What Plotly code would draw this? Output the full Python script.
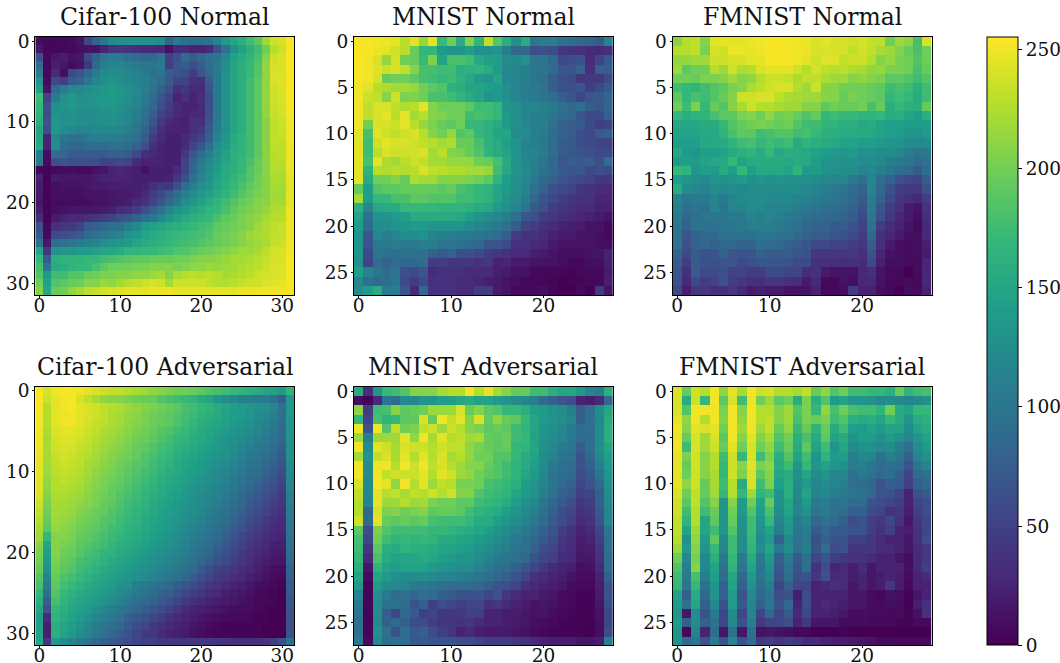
import plotly.graph_objects as go

cifar_normal = [
[8,4,4,6,8,12,55,80,100,120,125,128,130,130,128,124,80,105,92,90,90,95,114,136,150,160,175,190,218,236,240,253],
[15,5,4,4,6,10,12,12,25,38,40,38,35,30,30,28,12,30,30,25,25,30,62,95,125,145,160,175,198,226,235,253],
[62,5,15,20,12,15,58,80,100,106,106,95,90,85,85,100,50,62,90,74,85,95,100,120,145,155,165,180,208,236,240,253],
[90,5,20,15,8,12,42,85,110,116,118,110,105,100,100,105,47,68,74,62,74,90,105,125,150,160,170,185,212,238,240,253],
[105,5,30,10,58,68,85,105,120,124,124,118,113,105,95,100,74,68,62,46,68,85,105,130,150,160,170,185,212,240,240,253],
[130,8,58,47,74,80,100,115,125,130,125,120,115,110,100,90,74,52,52,35,35,74,105,130,150,160,175,190,212,240,242,253],
[145,12,90,110,120,120,125,130,135,140,135,127,120,110,95,80,62,35,40,30,30,68,105,130,150,160,175,190,212,236,240,253],
[175,52,105,125,135,125,130,135,137,140,135,127,117,105,90,68,52,25,35,25,35,62,105,130,150,160,175,190,212,236,240,253],
[170,62,125,133,137,130,130,130,135,135,130,123,115,100,85,62,46,30,25,25,30,62,105,130,150,160,175,190,212,236,238,253],
[165,62,130,125,130,125,123,125,127,130,125,120,110,95,76,52,40,28,25,28,30,62,105,130,150,160,175,190,212,233,238,252],
[160,68,135,130,130,125,123,123,127,127,123,117,105,90,68,43,28,25,22,35,35,68,105,130,150,160,175,190,208,231,235,250],
[150,62,135,125,120,115,115,120,120,120,117,110,100,82,57,35,25,25,25,35,40,74,110,130,150,160,175,190,208,231,235,250],
[150,25,120,100,95,95,105,110,110,110,110,100,95,74,46,30,22,22,30,40,52,80,115,135,155,165,175,190,208,231,232,250],
[155,25,125,90,85,85,90,90,90,95,95,90,80,62,35,25,22,22,30,52,68,95,125,140,155,165,175,190,208,229,230,248],
[110,10,90,85,74,74,76,74,74,80,80,74,57,35,28,25,22,22,40,68,90,110,130,145,160,165,175,190,208,226,230,248],
[105,8,62,68,62,64,62,62,52,52,57,52,30,25,25,25,22,22,52,80,105,120,135,150,160,170,180,195,208,226,228,248],
[5,2,5,8,10,8,8,12,15,25,28,25,22,12,22,22,20,30,52,85,110,125,140,155,160,170,185,195,208,226,225,248],
[25,2,18,15,15,15,15,20,25,25,25,25,22,20,22,22,25,40,62,95,115,130,145,155,165,175,185,198,208,223,222,245],
[18,2,10,12,12,12,15,18,18,20,22,22,22,25,35,43,40,62,90,110,125,135,150,160,170,180,190,198,208,221,220,245],
[18,3,10,10,10,10,12,14,12,15,18,18,22,30,46,57,74,90,110,123,135,145,155,165,175,185,195,203,208,219,218,245],
[15,3,8,8,8,8,10,12,14,15,18,20,28,35,52,68,85,105,125,135,145,155,165,175,185,195,198,208,210,221,220,245],
[22,3,10,12,15,15,15,15,18,22,32,35,46,62,80,95,115,130,140,150,155,165,170,180,190,198,203,208,214,223,225,248],
[30,3,18,25,28,28,35,40,46,52,62,68,80,90,100,115,135,145,153,160,165,170,180,190,195,203,208,212,220,226,228,248],
[62,5,35,40,43,52,74,80,85,95,95,110,120,140,145,150,155,160,165,170,175,180,190,195,198,203,208,217,223,229,232,248],
[74,8,57,62,68,74,90,95,105,110,115,130,140,150,155,160,165,170,173,177,180,185,195,198,203,208,217,221,223,231,232,248],
[95,15,90,95,100,105,110,115,125,130,135,140,150,155,160,163,170,173,177,180,185,190,195,198,203,208,214,217,221,233,235,250],
[150,40,130,135,135,140,140,145,150,150,155,165,165,170,170,175,177,183,185,190,195,198,203,208,212,217,217,221,229,238,240,250],
[170,74,160,165,165,165,170,170,175,180,185,187,190,190,195,195,195,198,198,203,208,208,210,214,220,221,223,226,233,238,240,252],
[180,100,155,160,165,170,170,180,190,198,198,200,203,203,208,208,208,203,208,212,212,217,214,217,220,223,226,229,236,240,242,252],
[185,140,175,175,185,185,195,198,203,203,208,208,212,212,217,221,208,221,226,229,226,229,226,221,223,226,229,236,238,240,242,252],
[198,145,185,190,195,198,208,208,217,212,221,226,231,236,240,236,221,236,236,236,236,231,226,226,229,233,236,238,242,245,245,252],
[208,150,195,198,212,219,229,232,238,240,242,245,245,245,248,248,248,245,245,245,245,245,245,245,245,248,248,248,250,250,250,253],
]

mnist_normal = [
[253,253,250,248,245,228,245,214,245,172,198,158,208,168,231,185,158,128,155,100,108,108,95,90,85,80,70,112],
[253,253,248,245,236,228,195,168,168,138,133,133,143,128,128,133,110,85,85,62,62,60,42,38,34,30,30,35],
[253,250,240,214,240,198,195,172,204,148,180,180,175,152,143,143,123,120,128,100,100,85,58,62,66,32,52,72],
[252,250,242,236,240,231,208,180,180,175,175,158,162,165,155,138,120,115,110,100,100,90,70,68,80,34,76,76],
[252,250,240,195,198,198,190,180,175,170,175,162,152,138,133,150,120,115,110,100,95,76,64,58,40,44,44,58],
[250,245,228,224,219,219,214,198,190,185,162,158,148,148,143,138,125,115,110,105,100,76,64,64,68,48,58,72],
[250,236,231,208,236,204,204,198,180,180,175,165,155,148,133,138,125,115,110,105,100,90,76,68,54,68,72,82],
[250,231,240,240,231,224,228,245,208,198,198,198,190,175,175,170,133,128,115,115,110,105,95,85,92,74,68,82],
[250,231,240,245,228,245,219,228,208,204,198,198,175,180,175,170,138,128,115,110,110,100,90,85,68,58,58,78],
[250,198,240,240,236,245,228,214,204,195,190,198,170,170,162,155,138,128,120,110,110,95,80,74,72,58,48,52],
[245,180,245,236,231,236,240,228,208,198,214,185,190,170,162,148,148,123,123,110,105,90,80,74,62,58,72,76],
[245,175,236,245,240,240,236,231,228,219,224,195,195,180,162,155,143,133,115,110,105,90,74,72,62,58,52,52],
[245,175,228,240,236,236,236,240,219,228,208,204,195,185,165,155,148,133,115,115,105,90,74,72,68,62,58,58],
[245,180,245,224,219,228,236,231,219,219,214,214,214,198,195,180,155,133,120,110,100,85,68,76,72,76,62,90],
[245,165,228,224,228,224,228,240,231,228,224,224,219,219,214,175,152,133,123,110,95,85,74,68,68,58,62,58],
[245,155,198,198,208,195,224,219,219,208,208,208,204,198,190,165,143,128,120,105,85,78,68,62,58,52,42,42],
[195,143,185,190,190,195,195,195,195,190,195,180,175,170,165,150,138,128,115,95,80,62,58,52,42,36,32,30],
[219,143,170,170,180,180,190,190,185,185,185,175,175,170,162,148,133,123,110,85,68,58,46,42,36,36,26,26],
[162,118,152,155,155,170,170,170,170,165,165,165,162,155,152,138,128,115,100,74,62,46,42,36,30,30,24,24],
[148,95,133,133,138,143,155,155,155,155,155,152,143,133,123,118,110,95,68,62,46,40,34,30,26,24,18,14],
[138,90,123,123,133,133,138,138,133,133,133,133,123,118,110,105,95,74,52,46,36,30,24,22,18,14,12,6],
[133,68,118,110,115,123,123,128,115,110,110,105,105,100,95,90,74,46,36,36,30,24,18,18,14,12,10,6],
[133,68,105,105,110,105,105,110,110,100,100,95,90,85,68,68,58,36,36,30,26,18,14,12,12,12,10,10],
[133,58,100,95,95,95,95,95,80,72,80,62,62,58,46,42,36,30,30,22,18,14,10,10,10,12,14,24],
[128,52,90,80,90,85,85,90,46,46,42,42,42,36,42,24,26,18,18,14,12,12,10,6,5,10,10,22],
[143,115,100,90,100,62,58,68,30,36,36,36,30,30,30,22,18,12,12,6,6,4,4,3,4,6,6,18],
[118,95,85,90,100,58,46,58,36,36,36,32,30,26,22,18,12,10,6,4,4,3,0,3,3,4,6,22],
[123,138,155,105,110,68,30,85,36,36,36,30,30,46,46,18,14,6,6,6,10,3,0,0,6,0,42,14],
]

fmnist_normal = [
[208,226,231,208,245,245,245,245,248,250,252,253,252,250,248,240,245,240,240,236,238,233,229,198,217,212,180,240],
[226,226,231,203,240,236,248,248,246,250,253,253,253,250,248,240,240,240,238,231,238,231,221,217,208,195,180,198],
[212,214,217,217,236,236,240,240,245,245,252,253,252,250,245,236,242,242,231,236,236,226,208,214,203,198,185,198],
[217,190,198,198,226,217,236,223,226,240,245,245,245,236,226,238,229,226,229,223,221,212,214,203,203,198,180,195],
[198,198,195,203,203,208,217,208,212,226,236,236,233,223,231,231,223,217,217,208,212,208,203,190,190,185,175,185],
[175,170,165,175,185,190,203,208,223,229,236,240,240,226,217,236,208,208,198,198,198,195,190,175,180,175,160,175],
[190,170,180,175,185,195,208,236,236,240,240,229,223,220,217,217,208,208,195,203,198,195,190,170,175,170,155,175],
[198,175,203,170,195,185,208,221,236,226,226,221,217,217,208,208,190,198,195,195,198,180,195,160,170,160,160,195],
[170,160,165,165,180,190,190,203,208,198,212,198,203,195,185,195,170,175,170,170,165,165,170,155,160,150,142,160],
[152,152,152,155,155,170,185,195,198,203,198,195,198,185,175,175,165,165,160,160,152,155,147,142,142,138,138,142],
[147,147,147,152,152,165,180,190,190,175,180,185,185,175,180,170,160,160,155,155,155,152,147,142,138,133,133,138],
[142,142,142,152,152,155,165,175,180,170,175,170,175,155,165,160,155,152,147,147,142,142,138,133,133,124,120,124],
[152,138,133,142,142,147,155,160,165,155,170,152,160,155,152,147,142,138,133,138,128,128,124,124,120,110,100,105],
[138,142,138,147,152,152,170,147,155,155,155,155,152,155,152,142,133,133,128,128,124,124,120,110,105,100,90,95],
[170,165,133,142,138,155,142,170,142,152,152,152,147,165,138,138,128,128,124,124,115,120,110,100,90,85,74,90],
[142,133,128,120,133,128,133,138,128,133,128,133,128,128,128,124,120,115,115,105,95,115,90,80,64,58,52,74],
[155,124,120,115,124,120,124,120,124,124,124,124,124,124,120,115,110,105,100,90,80,115,85,64,46,44,40,64],
[115,100,105,105,115,105,115,124,124,124,120,120,120,115,115,110,105,100,95,85,74,110,80,58,40,34,28,46],
[110,95,100,95,115,100,115,115,124,120,115,115,115,110,105,100,95,90,85,80,64,105,68,46,34,18,14,36],
[105,85,95,100,100,100,105,105,115,110,115,110,105,100,95,90,85,85,80,74,58,100,64,40,26,18,10,34],
[100,80,95,95,95,100,100,105,110,110,110,105,100,95,85,80,80,74,74,64,52,95,46,32,24,14,6,28],
[95,68,80,85,85,95,95,95,95,100,100,95,95,85,80,74,74,68,64,58,46,85,36,26,18,10,10,28],
[95,64,80,85,80,85,85,80,80,90,90,85,80,74,68,58,58,52,52,46,40,74,34,18,10,8,10,22],
[80,58,74,64,68,80,68,68,68,80,74,74,74,68,64,40,40,40,40,40,34,64,26,12,10,8,10,18],
[74,46,74,64,64,68,68,58,64,68,68,68,64,58,58,34,34,34,32,34,32,58,22,10,10,8,8,26],
[68,34,74,58,58,64,52,52,46,46,58,58,52,52,32,34,18,14,14,14,28,34,14,8,6,0,8,26],
[64,28,58,46,52,64,46,40,34,34,40,40,34,32,18,28,6,6,12,10,28,28,12,6,6,8,6,28],
[58,20,40,40,34,34,40,28,18,24,18,18,12,12,14,24,6,6,10,46,24,24,10,6,0,10,8,24],
]

cifar_adv = [
[253,240,250,252,252,250,245,240,236,233,231,226,221,217,212,208,203,198,198,195,190,185,180,175,170,165,160,155,150,145,140,165],
[253,236,245,250,252,240,231,221,212,208,208,203,198,195,195,185,180,175,170,165,155,150,133,124,120,110,110,105,105,95,76,136],
[253,226,245,250,252,245,240,236,231,226,223,217,212,208,203,198,195,190,180,175,170,165,155,150,142,138,133,128,124,115,95,136],
[250,226,245,248,250,245,240,236,231,223,221,214,210,203,198,195,190,185,177,173,167,160,155,147,142,138,133,124,120,110,95,136],
[250,226,245,250,250,245,238,233,229,223,220,212,208,203,196,193,190,183,175,167,160,155,150,145,138,133,128,120,115,105,90,135],
[250,223,240,245,245,240,236,231,223,220,214,210,203,198,195,187,183,175,170,163,155,150,145,138,133,127,122,118,110,100,88,133],
[248,221,238,242,242,238,233,226,221,217,212,205,198,196,190,183,177,170,165,157,153,147,140,133,128,122,118,110,105,95,85,130],
[248,221,236,240,238,233,229,223,217,212,208,201,195,190,185,177,173,165,160,153,147,142,136,130,124,118,110,105,100,90,78,128],
[246,221,233,238,236,231,226,220,214,208,203,198,193,185,180,173,167,160,153,149,142,138,130,127,120,112,105,100,92,85,72,127],
[245,220,231,236,233,229,221,217,210,205,198,195,187,183,175,170,163,155,150,145,140,133,127,122,115,108,100,95,88,78,66,122],
[245,217,229,233,231,226,220,212,208,201,196,190,185,177,173,165,157,153,147,142,136,128,122,118,110,102,95,90,82,72,60,120],
[243,214,226,231,226,223,217,210,203,198,193,187,180,175,167,160,155,149,145,138,130,127,120,112,105,98,90,85,76,66,54,118],
[242,212,226,226,223,220,212,208,201,195,190,183,177,170,163,157,150,147,140,133,127,122,115,108,102,92,85,78,68,60,48,115],
[240,208,223,223,220,217,210,203,198,193,185,180,173,165,160,153,149,142,136,130,124,118,112,105,98,88,78,72,64,54,44,110],
[236,203,221,220,217,212,208,201,195,190,183,175,170,163,155,150,145,140,133,127,120,115,108,100,92,85,72,66,56,48,40,108],
[231,198,220,217,214,208,201,196,193,185,180,173,165,160,153,147,142,136,130,124,118,110,102,95,88,78,66,60,52,42,36,105],
[226,195,217,214,210,203,198,195,187,183,175,170,163,155,150,145,138,133,127,120,112,105,98,92,80,72,60,54,44,36,30,102],
[221,190,214,210,205,198,195,190,185,177,173,165,160,153,147,142,136,128,122,115,108,100,92,85,76,66,54,48,40,30,28,100],
[217,170,208,208,203,195,190,185,180,173,167,160,155,149,142,138,130,124,118,110,102,95,88,78,68,56,48,40,32,28,25,98],
[208,150,208,203,198,190,185,180,175,167,160,155,150,145,138,133,127,120,112,105,98,90,80,72,60,52,42,36,28,22,22,95],
[203,142,208,198,195,187,180,175,167,163,155,150,145,140,133,128,122,115,108,100,92,85,72,64,54,44,36,30,25,18,18,90],
[198,138,203,195,190,180,175,170,163,155,150,145,140,133,127,122,115,110,102,95,85,76,64,58,48,40,32,25,20,15,15,88],
[195,128,198,190,185,175,170,163,155,150,145,140,133,127,122,115,110,102,95,88,72,60,52,46,40,32,28,20,15,10,10,80],
[185,115,195,183,177,170,163,155,150,145,138,133,127,122,115,108,100,95,85,76,60,54,44,40,32,28,22,18,12,8,5,78],
[180,105,190,177,170,163,155,150,145,138,128,127,110,102,98,92,85,76,68,60,52,42,36,30,25,22,15,10,8,5,3,72],
[170,95,185,170,163,155,150,145,138,130,122,115,105,95,90,80,76,66,56,48,40,32,28,22,18,15,12,8,5,3,0,72],
[160,76,180,165,155,150,145,138,130,122,115,105,95,88,80,72,64,56,44,36,30,25,20,18,15,12,10,5,4,2,0,66],
[150,66,170,160,150,145,138,127,120,110,102,95,85,76,68,60,52,42,30,25,22,18,15,12,10,8,8,5,3,1,0,66],
[142,30,165,155,147,138,127,118,110,102,95,80,72,64,56,48,36,30,25,20,16,12,10,8,5,5,5,3,2,0,0,64],
[142,20,160,150,142,130,120,110,100,95,85,72,60,54,44,36,30,25,20,15,12,8,5,3,2,3,3,2,0,0,0,64],
[147,22,160,147,138,124,115,105,95,85,76,66,54,44,40,30,25,22,18,12,10,5,3,2,2,3,3,2,0,0,0,64],
[150,40,138,124,115,105,98,88,78,72,66,60,54,50,48,44,40,40,40,40,40,40,38,38,35,35,35,35,38,46,60,95],
]

mnist_adv = [
[155,35,133,170,175,185,208,208,208,221,226,226,250,226,245,221,208,195,195,175,175,160,150,150,138,115,110,160],
[10,2,30,100,90,120,120,133,133,142,142,150,155,147,147,138,133,124,115,110,90,78,66,60,25,20,30,85],
[212,46,175,180,208,190,195,198,217,217,217,240,195,208,190,185,170,170,160,142,138,128,124,110,76,90,124,150],
[170,52,180,165,170,190,190,240,195,250,231,245,208,240,195,212,195,190,170,150,138,133,124,115,76,95,120,155],
[250,66,250,185,231,198,203,231,236,217,236,226,208,203,190,195,190,175,165,150,133,128,120,105,90,95,124,160],
[217,110,217,217,217,245,212,250,221,245,226,231,217,221,195,190,195,175,170,147,133,124,115,105,90,90,124,160],
[250,124,245,236,221,240,236,236,226,236,231,231,212,203,195,190,195,170,165,150,128,120,105,100,76,95,124,150],
[221,133,231,240,221,245,226,245,226,240,221,226,212,198,198,185,185,170,155,147,124,115,100,95,66,85,120,142],
[250,124,248,250,226,250,236,250,231,240,226,217,208,208,195,185,175,165,155,142,124,105,95,90,66,78,110,138],
[250,124,250,231,236,236,236,245,226,245,236,217,212,198,190,185,175,165,150,138,120,100,90,85,60,72,100,133],
[240,120,252,245,212,250,226,245,217,231,226,203,203,198,180,175,170,160,142,133,115,100,85,78,54,66,85,128],
[231,120,245,226,231,221,231,226,236,226,236,208,208,185,175,170,165,150,138,128,110,95,78,72,50,54,78,124],
[226,115,245,217,217,226,217,221,203,198,198,190,190,175,170,165,155,142,128,120,100,85,72,60,42,48,78,120],
[226,85,240,203,208,198,203,208,190,195,195,190,175,165,160,155,142,133,120,110,95,78,60,54,36,42,72,115],
[236,90,245,195,190,195,190,195,180,175,175,175,170,155,155,142,133,124,115,100,90,72,60,48,30,36,66,115],
[190,60,203,185,175,175,175,175,170,170,165,160,155,150,142,133,124,115,105,95,78,66,48,36,25,30,54,100],
[180,54,198,175,165,170,165,170,165,155,155,150,147,138,133,124,115,105,95,85,72,60,42,34,20,25,48,95],
[175,42,190,160,155,165,160,160,155,150,147,142,138,133,124,115,110,100,95,78,60,54,36,30,18,20,42,95],
[170,30,180,155,147,150,150,155,150,142,138,133,133,124,115,105,100,95,85,66,54,48,30,28,15,15,36,90],
[160,15,165,147,142,147,147,147,138,133,128,124,124,115,105,95,90,78,66,54,42,30,25,20,10,12,30,90],
[150,8,150,138,128,124,124,124,120,115,115,110,105,100,95,85,78,66,54,36,30,25,20,12,8,8,25,78],
[138,3,138,124,120,115,105,105,100,95,90,90,90,85,78,66,60,54,36,30,25,20,15,8,5,5,20,66],
[115,2,128,105,90,95,85,95,90,78,72,66,66,66,54,66,42,30,25,25,18,15,8,5,3,3,18,66],
[105,2,124,95,95,90,66,78,48,60,54,48,54,54,36,42,30,25,20,12,15,12,8,5,2,2,15,60],
[100,2,124,78,54,85,72,48,54,42,42,42,48,48,25,25,20,20,15,12,12,8,5,3,2,2,12,54],
[95,2,120,78,85,78,60,60,48,42,42,36,42,30,25,25,20,18,15,10,8,5,3,3,2,1,10,54],
[95,2,128,95,66,90,72,78,60,48,42,25,30,22,18,18,18,15,12,8,5,3,3,3,2,0,10,60],
[105,8,120,90,95,90,72,72,66,66,66,60,60,54,48,48,48,42,36,30,25,22,22,20,15,15,20,110],
]

fmnist_adv = [
[240,195,236,226,250,212,245,221,250,236,240,226,226,221,231,195,212,185,198,175,175,170,170,160,195,165,175,180],
[240,155,236,170,250,190,240,175,248,198,217,190,198,155,203,160,185,138,147,133,133,128,120,124,120,115,120,128],
[240,185,250,250,250,203,250,208,250,226,226,208,217,185,203,170,212,180,198,180,175,175,165,198,155,147,170,170],
[245,212,250,226,250,208,250,212,250,226,231,208,217,180,203,195,203,175,185,160,155,160,150,170,155,133,155,160],
[250,208,245,240,245,198,250,217,248,217,231,195,212,170,195,165,195,155,175,142,138,147,138,147,147,124,147,155],
[248,195,240,217,240,190,250,208,245,208,221,185,198,160,180,155,190,147,155,133,142,138,128,138,128,115,133,147],
[250,175,240,217,236,195,245,198,240,198,212,175,195,155,190,147,175,133,150,124,128,128,120,124,110,95,124,138],
[245,203,238,208,226,175,236,170,240,175,203,160,185,147,175,133,165,138,142,110,120,115,95,110,100,78,115,128],
[245,195,238,208,226,170,236,208,245,203,212,155,175,133,170,133,147,133,128,110,110,100,90,95,90,66,100,115],
[245,198,236,208,221,170,236,203,240,190,208,150,155,128,150,124,133,115,115,95,105,95,85,90,78,54,90,95],
[245,212,236,195,221,175,226,155,240,175,203,142,160,124,138,115,124,115,110,95,90,85,66,78,72,48,78,85],
[240,198,231,195,217,170,226,170,217,165,175,133,160,120,150,115,120,110,105,100,95,85,66,66,54,25,66,72],
[236,190,231,185,208,133,208,138,198,147,195,128,150,115,138,105,110,95,100,90,90,66,60,54,48,25,54,60],
[236,175,226,175,195,133,198,138,185,142,180,124,147,115,128,100,105,95,90,78,78,60,54,36,42,20,48,60],
[231,165,226,150,190,133,195,128,175,133,170,115,138,105,115,85,95,90,78,60,66,48,42,54,36,15,42,54],
[231,147,217,150,175,133,185,128,175,128,147,110,133,100,110,72,85,72,72,66,66,48,36,48,25,20,36,54],
[226,128,212,138,190,120,175,124,170,120,138,78,120,95,105,60,78,66,66,48,48,42,30,25,25,15,36,60],
[217,138,208,133,170,115,175,124,165,124,150,105,124,95,110,66,90,60,66,42,42,42,30,30,25,15,30,42],
[198,120,203,120,160,105,170,105,155,105,138,78,105,72,95,54,66,48,42,36,36,30,25,25,15,10,30,42],
[185,110,208,120,147,95,165,100,147,100,128,72,100,66,95,36,60,25,30,20,30,15,25,25,25,10,30,48],
[175,105,180,110,142,90,150,85,138,100,120,66,95,60,66,42,66,30,30,20,25,15,20,25,20,8,25,30],
[170,100,170,95,133,78,147,78,128,90,110,54,78,54,54,25,30,36,30,15,25,15,20,42,20,5,25,25],
[147,78,155,85,133,78,138,66,120,85,100,60,66,20,60,25,25,25,25,15,15,8,5,12,10,2,15,25],
[138,95,150,78,120,66,138,72,115,78,100,66,85,25,60,25,30,25,20,15,15,8,8,10,8,0,20,36],
[133,15,124,66,105,54,124,54,115,54,85,54,72,30,54,25,25,20,15,8,10,8,8,5,8,2,12,36],
[138,78,124,78,95,54,120,66,110,42,54,54,60,25,42,15,15,15,8,8,8,5,5,5,3,2,5,5],
[133,5,115,25,90,15,95,15,95,12,15,12,10,5,5,0,0,0,2,0,0,0,0,0,0,0,0,0],
[133,85,100,66,105,66,115,66,90,42,48,42,48,42,30,30,25,22,20,18,15,12,8,8,5,5,5,5],
]

titles = ["Cifar-100 Normal", "MNIST Normal", "FMNIST Normal",
          "Cifar-100 Adversarial", "MNIST Adversarial", "FMNIST Adversarial"]
panels = [cifar_normal, mnist_normal, fmnist_normal, cifar_adv, mnist_adv, fmnist_adv]
ticks_32_x = [0, 10, 20, 30]
ticks_32_y = [0, 10, 20, 30]
ticks_28_x = [0, 10, 20]
ticks_28_y = [0, 5, 10, 15, 20, 25]
colorbar_ticks = [0, 50, 100, 150, 200, 250]

for name, m in zip(titles, panels):
    n = len(m)
    for i, row in enumerate(m):
        assert len(row) == n, (name, i, len(row))

W, H = 1060, 663
FONT = "DejaVu Serif"
x_px = [(35.3, 294.3), (354, 612.7), (672.5, 931.5)]
y_px = [(37, 295.3), (386.8, 645.3)]

fig = go.Figure()
ann = []
for k, (title, z) in enumerate(zip(titles, panels)):
    r, c = divmod(k, 3)
    suffix = "" if k == 0 else str(k + 1)
    n = len(z)
    xd = [x_px[c][0] / W, x_px[c][1] / W]
    yd = [1 - y_px[r][1] / H, 1 - y_px[r][0] / H]
    fig.add_trace(go.Heatmap(z=z, x=list(range(n)), y=list(range(n)), coloraxis="coloraxis",
                             xaxis="x" + suffix, yaxis="y" + suffix,
                             hovertemplate="%{x}, %{y}: %{z}<extra></extra>"))
    xt = ticks_32_x if n == 32 else ticks_28_x
    yt = ticks_32_y if n == 32 else ticks_28_y
    common = dict(ticks="outside", ticklen=2, tickwidth=1, tickcolor="#000",
                  showgrid=False, zeroline=False, showline=True, linecolor="#000",
                  linewidth=1, mirror=True, tickfont=dict(family=FONT, size=18.5, color="#111"))
    fig.update_layout(**{
        "xaxis" + suffix: dict(domain=xd, range=[-0.5, n - 0.5], tickvals=xt, ticklabelstandoff=-9,
                               anchor="y" + suffix, **common),
        "yaxis" + suffix: dict(domain=yd, range=[n - 0.5, -0.5], tickvals=yt, ticklabelstandoff=-1,
                               anchor="x" + suffix, **common),
    })
    cx = (x_px[c][0] + x_px[c][1]) / 2
    ann.append(dict(text=title, x=cx / W, y=1 - (y_px[r][0] - 4) / H, xref="paper", yref="paper",
                    xanchor="center", yanchor="bottom", showarrow=False,
                    font=dict(family=FONT, size=23.5, color="#111")))

fig.update_layout(
    width=W, height=H, margin=dict(l=0, r=0, t=0, b=0, autoexpand=False), paper_bgcolor="white",
    plot_bgcolor="white", annotations=ann,
    coloraxis=dict(
        colorscale="Viridis", cmin=0, cmax=255,
        colorbar=dict(
            x=987 / W, xanchor="left", xref="paper", thickness=31, thicknessmode="pixels",
            y=1 - 645.3 / H, yanchor="bottom", yref="paper", len=(645.3 - 37) / H, lenmode="fraction",
            tickvals=colorbar_ticks, ticks="outside", ticklen=4, tickwidth=1, tickcolor="#000",
            outlinecolor="#000", outlinewidth=1, xpad=0, ypad=0,
            tickfont=dict(family=FONT, size=18.5, color="#111"),
        ),
    ),
)
fig.write_html("out.html", config={"displayModeBar": False},
               post_script="document.body.style.margin='0';")
